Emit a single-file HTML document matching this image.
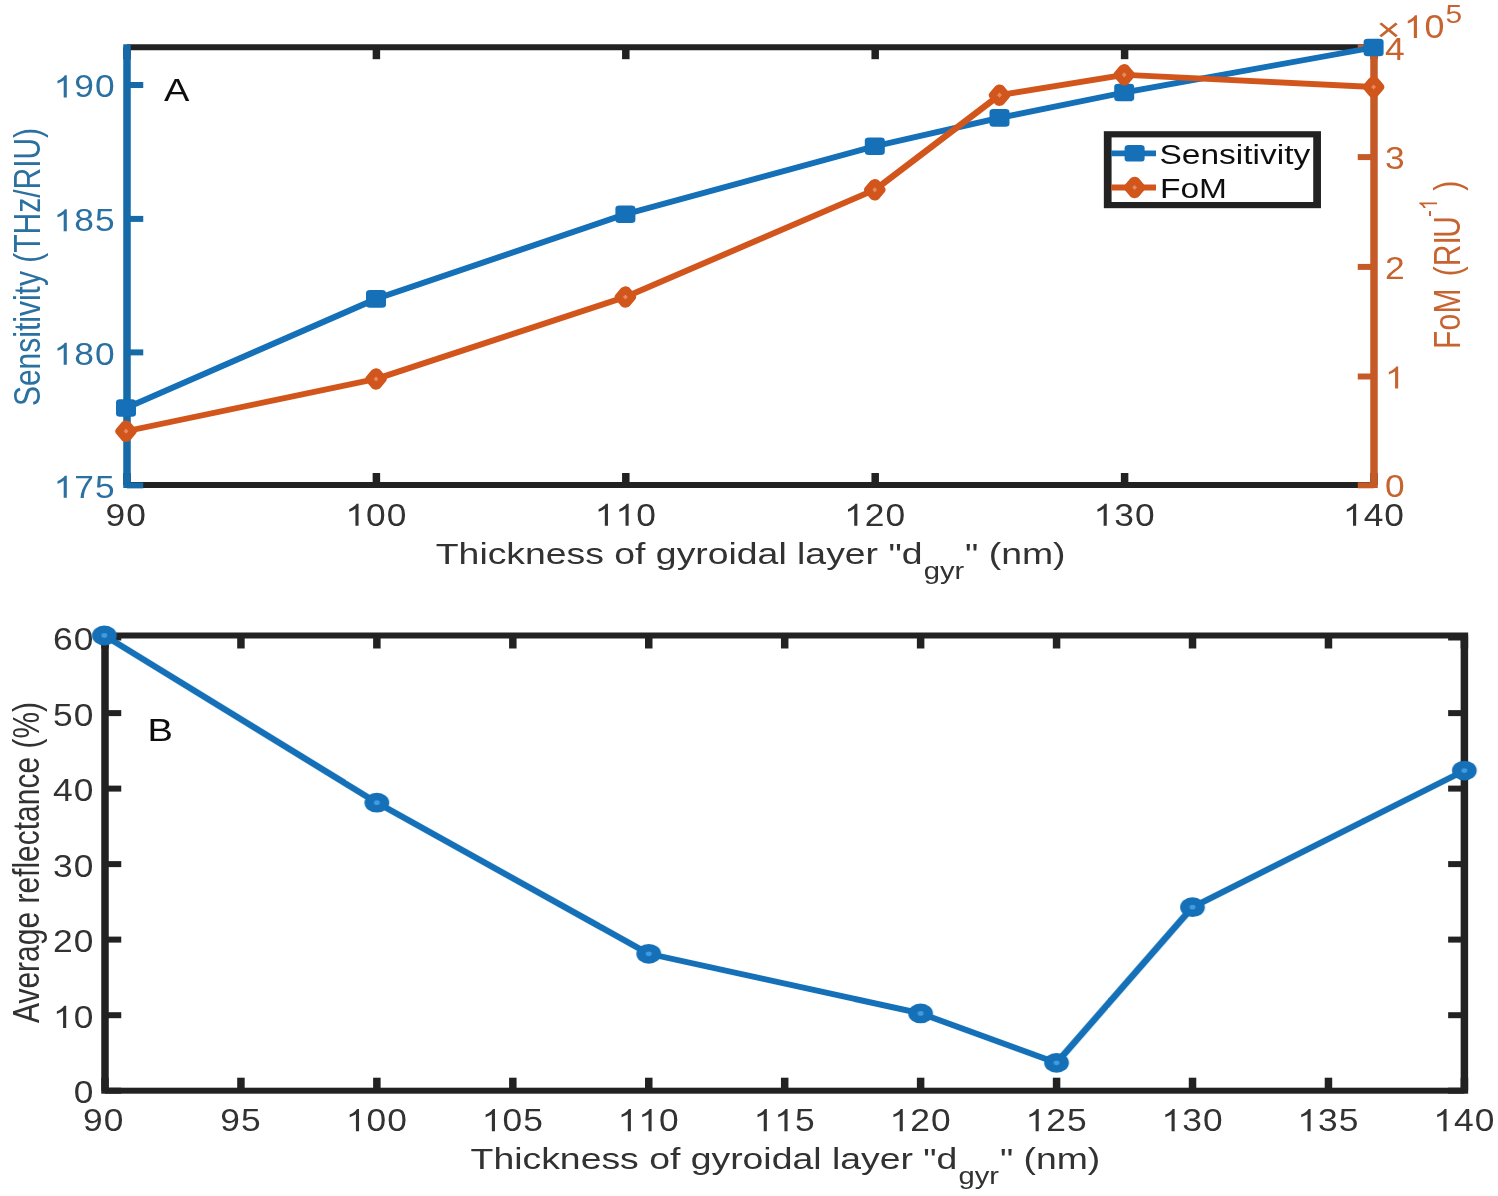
<!DOCTYPE html>
<html><head><meta charset="utf-8"><title>Figure</title>
<style>
html,body{margin:0;padding:0;background:#fff;}
body{width:1498px;height:1196px;overflow:hidden;}
svg{display:block;font-family:"Liberation Sans",sans-serif;}
</style></head><body>
<svg width="1498" height="1196" viewBox="0 0 1198.4 1196" preserveAspectRatio="none">
<defs><filter id="soft" x="0" y="0" width="1198.4" height="1196" filterUnits="userSpaceOnUse"><feGaussianBlur stdDeviation="0.5 0.6"/></filter></defs>
<rect x="0" y="0" width="1198.4" height="1196" fill="#ffffff"/>
<g filter="url(#soft)">
<line x1="101.6" y1="47.2" x2="1099.2" y2="47.2" stroke="#222222" stroke-width="6.0" stroke-linecap="butt"/>
<line x1="101.6" y1="485.0" x2="1099.2" y2="485.0" stroke="#222222" stroke-width="6.0" stroke-linecap="butt"/>
<line x1="101.6" y1="485.0" x2="101.6" y2="473.0" stroke="#222222" stroke-width="6.0" stroke-linecap="butt"/>
<line x1="101.6" y1="47.2" x2="101.6" y2="59.2" stroke="#222222" stroke-width="6.0" stroke-linecap="butt"/>
<line x1="301.12" y1="485.0" x2="301.12" y2="473.0" stroke="#222222" stroke-width="6.0" stroke-linecap="butt"/>
<line x1="301.12" y1="47.2" x2="301.12" y2="59.2" stroke="#222222" stroke-width="6.0" stroke-linecap="butt"/>
<line x1="500.64" y1="485.0" x2="500.64" y2="473.0" stroke="#222222" stroke-width="6.0" stroke-linecap="butt"/>
<line x1="500.64" y1="47.2" x2="500.64" y2="59.2" stroke="#222222" stroke-width="6.0" stroke-linecap="butt"/>
<line x1="700.16" y1="485.0" x2="700.16" y2="473.0" stroke="#222222" stroke-width="6.0" stroke-linecap="butt"/>
<line x1="700.16" y1="47.2" x2="700.16" y2="59.2" stroke="#222222" stroke-width="6.0" stroke-linecap="butt"/>
<line x1="899.68" y1="485.0" x2="899.68" y2="473.0" stroke="#222222" stroke-width="6.0" stroke-linecap="butt"/>
<line x1="899.68" y1="47.2" x2="899.68" y2="59.2" stroke="#222222" stroke-width="6.0" stroke-linecap="butt"/>
<line x1="1099.2" y1="485.0" x2="1099.2" y2="473.0" stroke="#222222" stroke-width="6.0" stroke-linecap="butt"/>
<line x1="1099.2" y1="47.2" x2="1099.2" y2="59.2" stroke="#222222" stroke-width="6.0" stroke-linecap="butt"/>
<line x1="101.6" y1="44.2" x2="101.6" y2="488.0" stroke="#126ba8" stroke-width="6.0" stroke-linecap="butt"/>
<line x1="101.6" y1="485.4" x2="114.6" y2="485.4" stroke="#126ba8" stroke-width="6.0"/>
<path transform="translate(42.89,497.8) scale(0.01383,-0.01503)" d="M763 0H583V1147Q518 1085 412.5 1023T223 930V1104Q374 1175 487 1276T647 1472H763Z" fill="#2a6fa1"/>
<text transform="translate(59.45,497.8) scale(0.885,1)" fill="#2a6fa1" font-size="32.0">7</text>
<text transform="translate(76.01,497.8) scale(0.885,1)" fill="#2a6fa1" font-size="32.0">5</text>
<line x1="101.6" y1="352.4" x2="114.6" y2="352.4" stroke="#126ba8" stroke-width="6.0"/>
<path transform="translate(42.89,364.8) scale(0.01383,-0.01503)" d="M763 0H583V1147Q518 1085 412.5 1023T223 930V1104Q374 1175 487 1276T647 1472H763Z" fill="#2a6fa1"/>
<text transform="translate(59.45,364.8) scale(0.885,1)" fill="#2a6fa1" font-size="32.0">8</text>
<text transform="translate(76.01,364.8) scale(0.885,1)" fill="#2a6fa1" font-size="32.0">0</text>
<line x1="101.6" y1="218.9" x2="114.6" y2="218.9" stroke="#126ba8" stroke-width="6.0"/>
<path transform="translate(42.89,231.3) scale(0.01383,-0.01503)" d="M763 0H583V1147Q518 1085 412.5 1023T223 930V1104Q374 1175 487 1276T647 1472H763Z" fill="#2a6fa1"/>
<text transform="translate(59.45,231.3) scale(0.885,1)" fill="#2a6fa1" font-size="32.0">8</text>
<text transform="translate(76.01,231.3) scale(0.885,1)" fill="#2a6fa1" font-size="32.0">5</text>
<line x1="101.6" y1="85.0" x2="114.6" y2="85.0" stroke="#126ba8" stroke-width="6.0"/>
<path transform="translate(42.89,97.4) scale(0.01383,-0.01503)" d="M763 0H583V1147Q518 1085 412.5 1023T223 930V1104Q374 1175 487 1276T647 1472H763Z" fill="#2a6fa1"/>
<text transform="translate(59.45,97.4) scale(0.885,1)" fill="#2a6fa1" font-size="32.0">9</text>
<text transform="translate(76.01,97.4) scale(0.885,1)" fill="#2a6fa1" font-size="32.0">0</text>
<line x1="1099.2" y1="44.2" x2="1099.2" y2="488.0" stroke="#c65a28" stroke-width="6.0" stroke-linecap="butt"/>
<line x1="1099.2" y1="485.3" x2="1086.2" y2="485.3" stroke="#c65a28" stroke-width="6.0"/>
<text transform="translate(1108.0,497.3) scale(0.885,1)" fill="#c6632f" font-size="32.0">0</text>
<line x1="1099.2" y1="376.5" x2="1086.2" y2="376.5" stroke="#c65a28" stroke-width="6.0"/>
<path transform="translate(1108.0,388.5) scale(0.01383,-0.01503)" d="M763 0H583V1147Q518 1085 412.5 1023T223 930V1104Q374 1175 487 1276T647 1472H763Z" fill="#c6632f"/>
<line x1="1099.2" y1="266.9" x2="1086.2" y2="266.9" stroke="#c65a28" stroke-width="6.0"/>
<text transform="translate(1108.0,278.9) scale(0.885,1)" fill="#c6632f" font-size="32.0">2</text>
<line x1="1099.2" y1="157.1" x2="1086.2" y2="157.1" stroke="#c65a28" stroke-width="6.0"/>
<text transform="translate(1108.0,169.1) scale(0.885,1)" fill="#c6632f" font-size="32.0">3</text>
<line x1="1099.2" y1="47.3" x2="1086.2" y2="47.3" stroke="#c65a28" stroke-width="6.0"/>
<text transform="translate(1108.0,60.2) scale(0.885,1)" fill="#c6632f" font-size="32.0">4</text>
<text transform="translate(84.4,525.8) scale(0.885,1)" fill="#303030" font-size="32.0">9</text>
<text transform="translate(100.96,525.8) scale(0.885,1)" fill="#303030" font-size="32.0">0</text>
<path transform="translate(276.28,525.8) scale(0.01383,-0.01503)" d="M763 0H583V1147Q518 1085 412.5 1023T223 930V1104Q374 1175 487 1276T647 1472H763Z" fill="#303030"/>
<text transform="translate(292.84,525.8) scale(0.885,1)" fill="#303030" font-size="32.0">0</text>
<text transform="translate(309.4,525.8) scale(0.885,1)" fill="#303030" font-size="32.0">0</text>
<path transform="translate(475.8,525.8) scale(0.01383,-0.01503)" d="M763 0H583V1147Q518 1085 412.5 1023T223 930V1104Q374 1175 487 1276T647 1472H763Z" fill="#303030"/>
<path transform="translate(492.36,525.8) scale(0.01383,-0.01503)" d="M763 0H583V1147Q518 1085 412.5 1023T223 930V1104Q374 1175 487 1276T647 1472H763Z" fill="#303030"/>
<text transform="translate(508.92,525.8) scale(0.885,1)" fill="#303030" font-size="32.0">0</text>
<path transform="translate(675.32,525.8) scale(0.01383,-0.01503)" d="M763 0H583V1147Q518 1085 412.5 1023T223 930V1104Q374 1175 487 1276T647 1472H763Z" fill="#303030"/>
<text transform="translate(691.88,525.8) scale(0.885,1)" fill="#303030" font-size="32.0">2</text>
<text transform="translate(708.44,525.8) scale(0.885,1)" fill="#303030" font-size="32.0">0</text>
<path transform="translate(874.84,525.8) scale(0.01383,-0.01503)" d="M763 0H583V1147Q518 1085 412.5 1023T223 930V1104Q374 1175 487 1276T647 1472H763Z" fill="#303030"/>
<text transform="translate(891.4,525.8) scale(0.885,1)" fill="#303030" font-size="32.0">3</text>
<text transform="translate(907.96,525.8) scale(0.885,1)" fill="#303030" font-size="32.0">0</text>
<path transform="translate(1074.36,525.8) scale(0.01383,-0.01503)" d="M763 0H583V1147Q518 1085 412.5 1023T223 930V1104Q374 1175 487 1276T647 1472H763Z" fill="#303030"/>
<text transform="translate(1090.92,525.8) scale(0.885,1)" fill="#303030" font-size="32.0">4</text>
<text transform="translate(1107.48,525.8) scale(0.885,1)" fill="#303030" font-size="32.0">0</text>
<text transform="translate(348.64,564.2) scale(1.0,1)" fill="#303030" font-size="29.9" text-anchor="start">Thickness of gyroidal layer "d</text>
<text transform="translate(739.04,579.2) scale(1.0,1)" fill="#303030" font-size="23.3" text-anchor="start">gyr</text>
<text transform="translate(772.08,564.2) scale(1.0,1)" fill="#303030" font-size="29.9" text-anchor="start">" (nm)</text>
<text transform="translate(32.16,267) rotate(-90)" fill="#2a6fa1" font-size="30" text-anchor="middle">Sensitivity (THz/RIU)</text>
<text transform="translate(1167.6,348.9) rotate(-90)" fill="#c6632f" font-size="30" dx="0 0 0.4 2 2 0 0 -1.6">FoM (RIU</text>
<text transform="translate(1149.6,217.0) rotate(-90)" fill="#c6632f" font-size="20.5">-</text>
<path transform="translate(1149.6,210.1735) rotate(-90) scale(0.01001,-0.00963)" d="M763 0H583V1147Q518 1085 412.5 1023T223 930V1104Q374 1175 487 1276T647 1472H763Z" fill="#c6632f"/>
<text transform="translate(1167.6,190.8) rotate(-90)" fill="#c6632f" font-size="30">)</text>
<text transform="translate(1101.12,41.0) scale(1.0,1)" fill="#c6632f" font-size="33" text-anchor="start">×</text>
<path transform="translate(1122.88,38.0) scale(0.01402,-0.0155)" d="M763 0H583V1147Q518 1085 412.5 1023T223 930V1104Q374 1175 487 1276T647 1472H763Z" fill="#c6632f"/>
<text transform="translate(1139.6,38.0) scale(0.87,1)" fill="#c6632f" font-size="33.0">0</text>
<text transform="translate(1156.48,23.0) scale(0.94,1)" fill="#c6632f" font-size="25.5" text-anchor="start">5</text>
<text transform="translate(131.2,101.0) scale(1.0,1)" fill="#111" font-size="30.5" text-anchor="start">A</text>
<polyline points="100.8,408 300.8,298.9 500.32,214.2 699.84,146.2 799.6,117.9 899.36,92.5 1098.88,47.5" fill="none" stroke="#1270b8" stroke-width="5.8" stroke-linejoin="round" stroke-linecap="round"/>
<rect x="92.8" y="399.2" width="16.0" height="17.6" rx="3.2" ry="3.2" fill="#1270b8"/>
<rect x="292.8" y="290.1" width="16.0" height="17.6" rx="3.2" ry="3.2" fill="#1270b8"/>
<rect x="492.32" y="205.4" width="16.0" height="17.6" rx="3.2" ry="3.2" fill="#1270b8"/>
<rect x="691.84" y="137.4" width="16.0" height="17.6" rx="3.2" ry="3.2" fill="#1270b8"/>
<rect x="791.6" y="109.1" width="16.0" height="17.6" rx="3.2" ry="3.2" fill="#1270b8"/>
<rect x="891.36" y="83.7" width="16.0" height="17.6" rx="3.2" ry="3.2" fill="#1270b8"/>
<rect x="1090.88" y="38.7" width="16.0" height="17.6" rx="3.2" ry="3.2" fill="#1270b8"/>
<polyline points="100.8,431.2 300.8,379 500.32,297 699.84,189.8 799.6,95.2 899.36,74.8 1098.88,87" fill="none" stroke="#d2561e" stroke-width="5.8" stroke-linejoin="round" stroke-linecap="round"/>
<path d="M100.8,424.9 L105.0,431.2 L100.8,437.5 L96.6,431.2 Z" fill="#d2561e" stroke="#d2561e" stroke-width="8.8" stroke-linejoin="round"/>
<path d="M100.8,428.59999999999997 L102.7,431.2 L100.8,433.8 L98.89999999999999,431.2 Z" fill="#e58a5e"/>
<path d="M300.8,372.7 L305.0,379 L300.8,385.3 L296.6,379 Z" fill="#d2561e" stroke="#d2561e" stroke-width="8.8" stroke-linejoin="round"/>
<path d="M300.8,376.4 L302.7,379 L300.8,381.6 L298.90000000000003,379 Z" fill="#e58a5e"/>
<path d="M500.32,290.7 L504.52,297 L500.32,303.3 L496.12,297 Z" fill="#d2561e" stroke="#d2561e" stroke-width="8.8" stroke-linejoin="round"/>
<path d="M500.32,294.4 L502.21999999999997,297 L500.32,299.6 L498.42,297 Z" fill="#e58a5e"/>
<path d="M699.84,183.5 L704.0400000000001,189.8 L699.84,196.10000000000002 L695.64,189.8 Z" fill="#d2561e" stroke="#d2561e" stroke-width="8.8" stroke-linejoin="round"/>
<path d="M699.84,187.20000000000002 L701.74,189.8 L699.84,192.4 L697.94,189.8 Z" fill="#e58a5e"/>
<path d="M799.6,88.9 L803.8000000000001,95.2 L799.6,101.5 L795.4,95.2 Z" fill="#d2561e" stroke="#d2561e" stroke-width="8.8" stroke-linejoin="round"/>
<path d="M799.6,92.60000000000001 L801.5,95.2 L799.6,97.8 L797.7,95.2 Z" fill="#e58a5e"/>
<path d="M899.36,68.5 L903.5600000000001,74.8 L899.36,81.1 L895.16,74.8 Z" fill="#d2561e" stroke="#d2561e" stroke-width="8.8" stroke-linejoin="round"/>
<path d="M899.36,72.2 L901.26,74.8 L899.36,77.39999999999999 L897.46,74.8 Z" fill="#e58a5e"/>
<path d="M1098.88,80.7 L1103.0800000000002,87 L1098.88,93.3 L1094.68,87 Z" fill="#d2561e" stroke="#d2561e" stroke-width="8.8" stroke-linejoin="round"/>
<path d="M1098.88,84.4 L1100.7800000000002,87 L1098.88,89.6 L1096.98,87 Z" fill="#e58a5e"/>
<rect x="886.1600000000001" y="134.3" width="167.52000000000007" height="70.79999999999998" fill="#fff" stroke="#222222" stroke-width="6.2"/>
<line x1="888.8" y1="153.3" x2="924.8" y2="153.3" stroke="#1270b8" stroke-width="5.8"/>
<rect x="899.68" y="145.0" width="16.0" height="16.6" rx="3.2" ry="3.2" fill="#1270b8"/>
<line x1="888.8" y1="187.5" x2="924.8" y2="187.5" stroke="#d2561e" stroke-width="5.8"/>
<path d="M907.68,181.2 L911.88,187.5 L907.68,193.8 L903.4799999999999,187.5 Z" fill="#d2561e" stroke="#d2561e" stroke-width="8.8" stroke-linejoin="round"/>
<path d="M907.68,184.9 L909.5799999999999,187.5 L907.68,190.1 L905.78,187.5 Z" fill="#e58a5e"/>
<text transform="translate(927.6,163.6) scale(1.0,1)" fill="#111" font-size="26.8" text-anchor="start">Sensitivity</text>
<text transform="translate(928.0,197.8) scale(1.0,1)" fill="#111" font-size="26.8" text-anchor="start">FoM</text>
<rect x="84.0" y="635.5" width="1087.52" height="455.2" fill="none" stroke="#222222" stroke-width="6.0"/>
<line x1="84.0" y1="1090.7" x2="84.0" y2="1077.7" stroke="#222222" stroke-width="6.0" stroke-linecap="butt"/>
<line x1="84.0" y1="635.5" x2="84.0" y2="648.5" stroke="#222222" stroke-width="6.0" stroke-linecap="butt"/>
<text transform="translate(66.48,1131.2) scale(0.885,1)" fill="#303030" font-size="32.0">9</text>
<text transform="translate(83.04,1131.2) scale(0.885,1)" fill="#303030" font-size="32.0">0</text>
<line x1="192.75" y1="1090.7" x2="192.75" y2="1077.7" stroke="#222222" stroke-width="6.0" stroke-linecap="butt"/>
<line x1="192.75" y1="635.5" x2="192.75" y2="648.5" stroke="#222222" stroke-width="6.0" stroke-linecap="butt"/>
<text transform="translate(176.2,1131.2) scale(0.885,1)" fill="#303030" font-size="32.0">9</text>
<text transform="translate(192.76,1131.2) scale(0.885,1)" fill="#303030" font-size="32.0">5</text>
<line x1="301.5" y1="1090.7" x2="301.5" y2="1077.7" stroke="#222222" stroke-width="6.0" stroke-linecap="butt"/>
<line x1="301.5" y1="635.5" x2="301.5" y2="648.5" stroke="#222222" stroke-width="6.0" stroke-linecap="butt"/>
<path transform="translate(276.67,1131.2) scale(0.01383,-0.01503)" d="M763 0H583V1147Q518 1085 412.5 1023T223 930V1104Q374 1175 487 1276T647 1472H763Z" fill="#303030"/>
<text transform="translate(293.23,1131.2) scale(0.885,1)" fill="#303030" font-size="32.0">0</text>
<text transform="translate(309.79,1131.2) scale(0.885,1)" fill="#303030" font-size="32.0">0</text>
<line x1="410.26" y1="1090.7" x2="410.26" y2="1077.7" stroke="#222222" stroke-width="6.0" stroke-linecap="butt"/>
<line x1="410.26" y1="635.5" x2="410.26" y2="648.5" stroke="#222222" stroke-width="6.0" stroke-linecap="butt"/>
<path transform="translate(385.42,1131.2) scale(0.01383,-0.01503)" d="M763 0H583V1147Q518 1085 412.5 1023T223 930V1104Q374 1175 487 1276T647 1472H763Z" fill="#303030"/>
<text transform="translate(401.98,1131.2) scale(0.885,1)" fill="#303030" font-size="32.0">0</text>
<text transform="translate(418.54,1131.2) scale(0.885,1)" fill="#303030" font-size="32.0">5</text>
<line x1="519.01" y1="1090.7" x2="519.01" y2="1077.7" stroke="#222222" stroke-width="6.0" stroke-linecap="butt"/>
<line x1="519.01" y1="635.5" x2="519.01" y2="648.5" stroke="#222222" stroke-width="6.0" stroke-linecap="butt"/>
<path transform="translate(494.17,1131.2) scale(0.01383,-0.01503)" d="M763 0H583V1147Q518 1085 412.5 1023T223 930V1104Q374 1175 487 1276T647 1472H763Z" fill="#303030"/>
<path transform="translate(510.73,1131.2) scale(0.01383,-0.01503)" d="M763 0H583V1147Q518 1085 412.5 1023T223 930V1104Q374 1175 487 1276T647 1472H763Z" fill="#303030"/>
<text transform="translate(527.29,1131.2) scale(0.885,1)" fill="#303030" font-size="32.0">0</text>
<line x1="627.76" y1="1090.7" x2="627.76" y2="1077.7" stroke="#222222" stroke-width="6.0" stroke-linecap="butt"/>
<line x1="627.76" y1="635.5" x2="627.76" y2="648.5" stroke="#222222" stroke-width="6.0" stroke-linecap="butt"/>
<path transform="translate(602.92,1131.2) scale(0.01383,-0.01503)" d="M763 0H583V1147Q518 1085 412.5 1023T223 930V1104Q374 1175 487 1276T647 1472H763Z" fill="#303030"/>
<path transform="translate(619.48,1131.2) scale(0.01383,-0.01503)" d="M763 0H583V1147Q518 1085 412.5 1023T223 930V1104Q374 1175 487 1276T647 1472H763Z" fill="#303030"/>
<text transform="translate(636.04,1131.2) scale(0.885,1)" fill="#303030" font-size="32.0">5</text>
<line x1="736.51" y1="1090.7" x2="736.51" y2="1077.7" stroke="#222222" stroke-width="6.0" stroke-linecap="butt"/>
<line x1="736.51" y1="635.5" x2="736.51" y2="648.5" stroke="#222222" stroke-width="6.0" stroke-linecap="butt"/>
<path transform="translate(711.68,1131.2) scale(0.01383,-0.01503)" d="M763 0H583V1147Q518 1085 412.5 1023T223 930V1104Q374 1175 487 1276T647 1472H763Z" fill="#303030"/>
<text transform="translate(728.24,1131.2) scale(0.885,1)" fill="#303030" font-size="32.0">2</text>
<text transform="translate(744.8,1131.2) scale(0.885,1)" fill="#303030" font-size="32.0">0</text>
<line x1="845.26" y1="1090.7" x2="845.26" y2="1077.7" stroke="#222222" stroke-width="6.0" stroke-linecap="butt"/>
<line x1="845.26" y1="635.5" x2="845.26" y2="648.5" stroke="#222222" stroke-width="6.0" stroke-linecap="butt"/>
<path transform="translate(820.43,1131.2) scale(0.01383,-0.01503)" d="M763 0H583V1147Q518 1085 412.5 1023T223 930V1104Q374 1175 487 1276T647 1472H763Z" fill="#303030"/>
<text transform="translate(836.99,1131.2) scale(0.885,1)" fill="#303030" font-size="32.0">2</text>
<text transform="translate(853.55,1131.2) scale(0.885,1)" fill="#303030" font-size="32.0">5</text>
<line x1="954.02" y1="1090.7" x2="954.02" y2="1077.7" stroke="#222222" stroke-width="6.0" stroke-linecap="butt"/>
<line x1="954.02" y1="635.5" x2="954.02" y2="648.5" stroke="#222222" stroke-width="6.0" stroke-linecap="butt"/>
<path transform="translate(929.18,1131.2) scale(0.01383,-0.01503)" d="M763 0H583V1147Q518 1085 412.5 1023T223 930V1104Q374 1175 487 1276T647 1472H763Z" fill="#303030"/>
<text transform="translate(945.74,1131.2) scale(0.885,1)" fill="#303030" font-size="32.0">3</text>
<text transform="translate(962.3,1131.2) scale(0.885,1)" fill="#303030" font-size="32.0">0</text>
<line x1="1062.77" y1="1090.7" x2="1062.77" y2="1077.7" stroke="#222222" stroke-width="6.0" stroke-linecap="butt"/>
<line x1="1062.77" y1="635.5" x2="1062.77" y2="648.5" stroke="#222222" stroke-width="6.0" stroke-linecap="butt"/>
<path transform="translate(1037.93,1131.2) scale(0.01383,-0.01503)" d="M763 0H583V1147Q518 1085 412.5 1023T223 930V1104Q374 1175 487 1276T647 1472H763Z" fill="#303030"/>
<text transform="translate(1054.49,1131.2) scale(0.885,1)" fill="#303030" font-size="32.0">3</text>
<text transform="translate(1071.05,1131.2) scale(0.885,1)" fill="#303030" font-size="32.0">5</text>
<line x1="1171.52" y1="1090.7" x2="1171.52" y2="1077.7" stroke="#222222" stroke-width="6.0" stroke-linecap="butt"/>
<line x1="1171.52" y1="635.5" x2="1171.52" y2="648.5" stroke="#222222" stroke-width="6.0" stroke-linecap="butt"/>
<path transform="translate(1146.68,1131.2) scale(0.01383,-0.01503)" d="M763 0H583V1147Q518 1085 412.5 1023T223 930V1104Q374 1175 487 1276T647 1472H763Z" fill="#303030"/>
<text transform="translate(1163.24,1131.2) scale(0.885,1)" fill="#303030" font-size="32.0">4</text>
<text transform="translate(1179.8,1131.2) scale(0.885,1)" fill="#303030" font-size="32.0">0</text>
<line x1="84.0" y1="1090.7" x2="97.0" y2="1090.7" stroke="#222222" stroke-width="6.0"/>
<line x1="1171.52" y1="1090.7" x2="1158.52" y2="1090.7" stroke="#222222" stroke-width="6.0"/>
<text transform="translate(58.97,1103.4) scale(0.885,1)" fill="#303030" font-size="32.0">0</text>
<line x1="84.0" y1="1015.2" x2="97.0" y2="1015.2" stroke="#222222" stroke-width="6.0"/>
<line x1="1171.52" y1="1015.2" x2="1158.52" y2="1015.2" stroke="#222222" stroke-width="6.0"/>
<path transform="translate(42.41,1027.9) scale(0.01383,-0.01503)" d="M763 0H583V1147Q518 1085 412.5 1023T223 930V1104Q374 1175 487 1276T647 1472H763Z" fill="#303030"/>
<text transform="translate(58.97,1027.9) scale(0.885,1)" fill="#303030" font-size="32.0">0</text>
<line x1="84.0" y1="939.6" x2="97.0" y2="939.6" stroke="#222222" stroke-width="6.0"/>
<line x1="1171.52" y1="939.6" x2="1158.52" y2="939.6" stroke="#222222" stroke-width="6.0"/>
<text transform="translate(42.41,952.3) scale(0.885,1)" fill="#303030" font-size="32.0">2</text>
<text transform="translate(58.97,952.3) scale(0.885,1)" fill="#303030" font-size="32.0">0</text>
<line x1="84.0" y1="864.1" x2="97.0" y2="864.1" stroke="#222222" stroke-width="6.0"/>
<line x1="1171.52" y1="864.1" x2="1158.52" y2="864.1" stroke="#222222" stroke-width="6.0"/>
<text transform="translate(42.41,876.8) scale(0.885,1)" fill="#303030" font-size="32.0">3</text>
<text transform="translate(58.97,876.8) scale(0.885,1)" fill="#303030" font-size="32.0">0</text>
<line x1="84.0" y1="788.6" x2="97.0" y2="788.6" stroke="#222222" stroke-width="6.0"/>
<line x1="1171.52" y1="788.6" x2="1158.52" y2="788.6" stroke="#222222" stroke-width="6.0"/>
<text transform="translate(42.41,801.3) scale(0.885,1)" fill="#303030" font-size="32.0">4</text>
<text transform="translate(58.97,801.3) scale(0.885,1)" fill="#303030" font-size="32.0">0</text>
<line x1="84.0" y1="713.1" x2="97.0" y2="713.1" stroke="#222222" stroke-width="6.0"/>
<line x1="1171.52" y1="713.1" x2="1158.52" y2="713.1" stroke="#222222" stroke-width="6.0"/>
<text transform="translate(42.41,725.8) scale(0.885,1)" fill="#303030" font-size="32.0">5</text>
<text transform="translate(58.97,725.8) scale(0.885,1)" fill="#303030" font-size="32.0">0</text>
<line x1="84.0" y1="637.5" x2="97.0" y2="637.5" stroke="#222222" stroke-width="6.0"/>
<line x1="1171.52" y1="637.5" x2="1158.52" y2="637.5" stroke="#222222" stroke-width="6.0"/>
<text transform="translate(42.41,650.2) scale(0.885,1)" fill="#303030" font-size="32.0">6</text>
<text transform="translate(58.97,650.2) scale(0.885,1)" fill="#303030" font-size="32.0">0</text>
<text transform="translate(376.48,1168.8) scale(1.0,1)" fill="#303030" font-size="29.9" text-anchor="start">Thickness of gyroidal layer "d</text>
<text transform="translate(766.88,1183.8) scale(1.0,1)" fill="#303030" font-size="23.3" text-anchor="start">gyr</text>
<text transform="translate(799.92,1168.8) scale(1.0,1)" fill="#303030" font-size="29.9" text-anchor="start">" (nm)</text>
<text transform="translate(31.2,862.5) rotate(-90)" fill="#303030" font-size="30" text-anchor="middle">Average reflectance (%)</text>
<text transform="translate(118.08,741.0) scale(1.0,1)" fill="#111" font-size="30.5" text-anchor="start">B</text>
<polyline points="83.52,635.5 301.5,802.7 519.01,953.8 736.51,1013.4 845.26,1062.8 954.02,907.2 1171.52,770.6" fill="none" stroke="#1270b8" stroke-width="5.8" stroke-linejoin="round" stroke-linecap="round"/>
<circle cx="83.52" cy="635.5" r="9.9" fill="#1270b8"/>
<circle cx="83.52" cy="635.5" r="2.4" fill="#3f9be0"/>
<circle cx="301.5" cy="802.7" r="9.9" fill="#1270b8"/>
<circle cx="301.5" cy="802.7" r="2.4" fill="#3f9be0"/>
<circle cx="519.01" cy="953.8" r="9.9" fill="#1270b8"/>
<circle cx="519.01" cy="953.8" r="2.4" fill="#3f9be0"/>
<circle cx="736.51" cy="1013.4" r="9.9" fill="#1270b8"/>
<circle cx="736.51" cy="1013.4" r="2.4" fill="#3f9be0"/>
<circle cx="845.26" cy="1062.8" r="9.9" fill="#1270b8"/>
<circle cx="845.26" cy="1062.8" r="2.4" fill="#3f9be0"/>
<circle cx="954.02" cy="907.2" r="9.9" fill="#1270b8"/>
<circle cx="954.02" cy="907.2" r="2.4" fill="#3f9be0"/>
<circle cx="1171.52" cy="770.6" r="9.9" fill="#1270b8"/>
<circle cx="1171.52" cy="770.6" r="2.4" fill="#3f9be0"/>
</g>
</svg>
</body></html>
